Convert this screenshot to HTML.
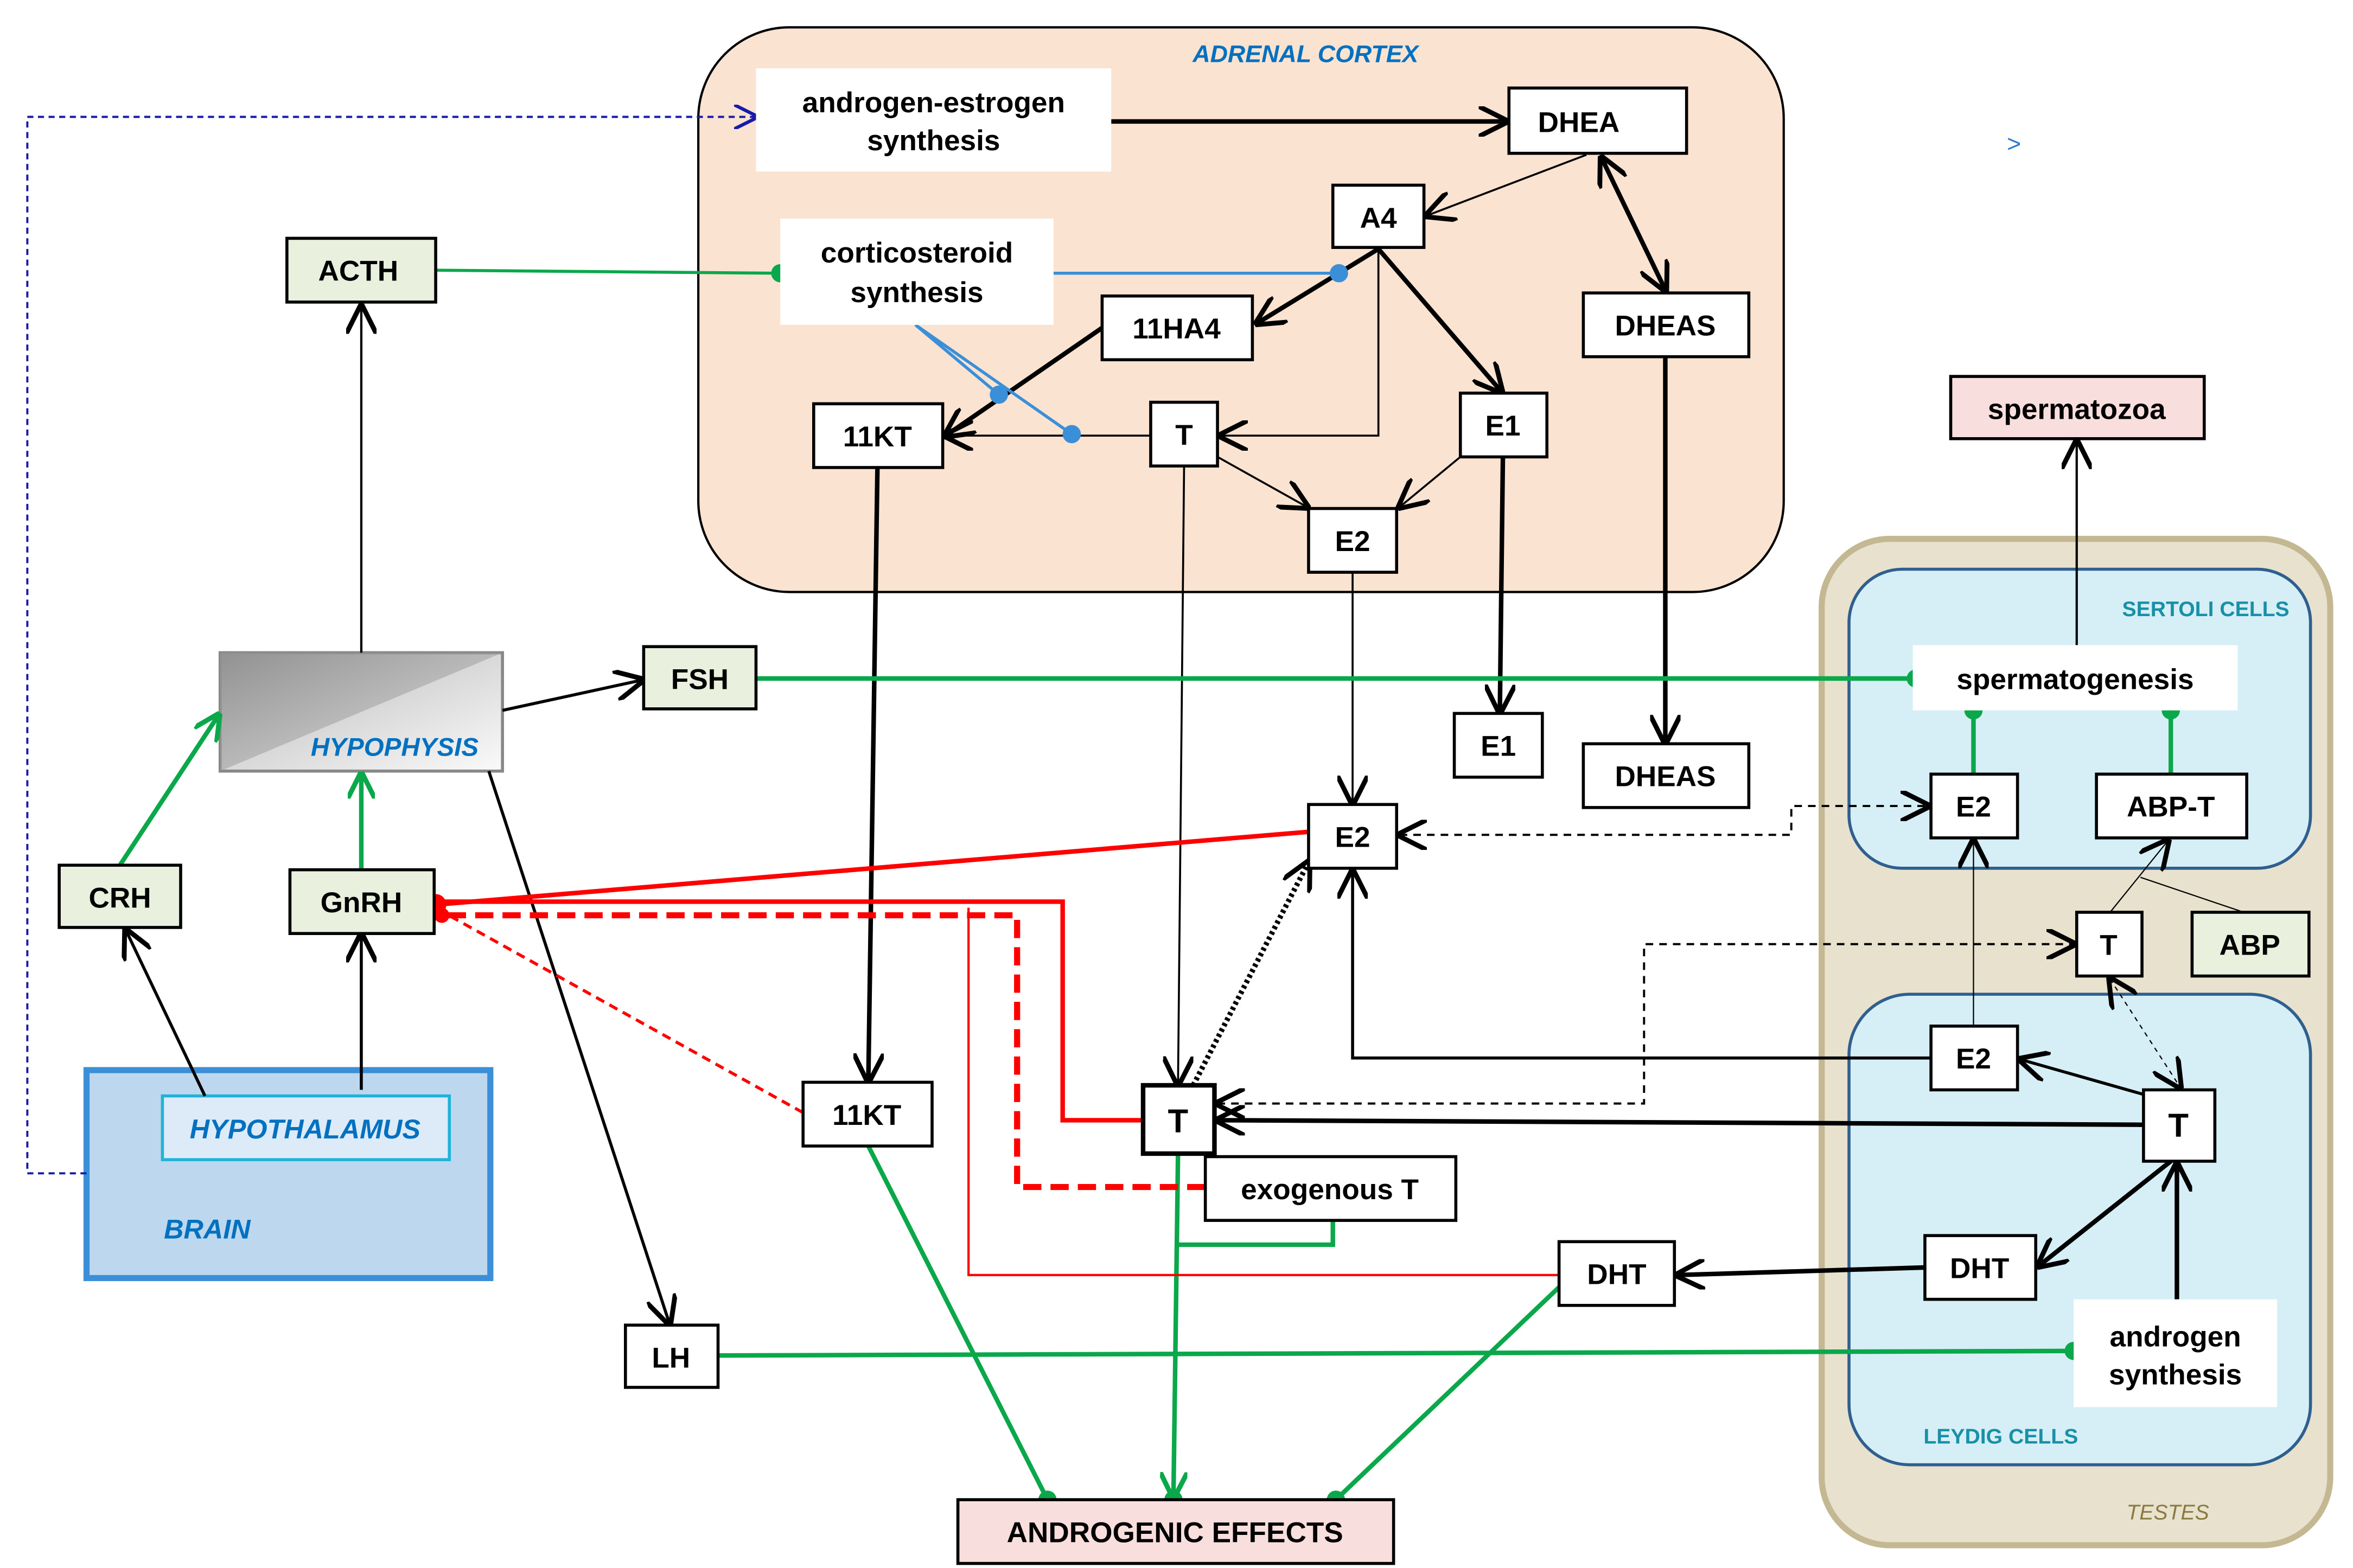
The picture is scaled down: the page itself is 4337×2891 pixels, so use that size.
<!DOCTYPE html>
<html><head><meta charset="utf-8"><style>html,body{margin:0;padding:0;background:#fff}svg{display:block}</style></head><body>
<svg width="4337" height="2891" viewBox="0 0 1550 1033" preserveAspectRatio="none" xmlns="http://www.w3.org/2000/svg" font-family="Liberation Sans, sans-serif">
<defs>
<marker id="a" viewBox="0 0 10 10" refX="9" refY="5" markerWidth="6" markerHeight="6" orient="auto-start-reverse" markerUnits="userSpaceOnUse"><path d="M0,0 L10,5 L0,10" fill="none" stroke="#000" stroke-width="2"/></marker>
<marker id="A" viewBox="0 0 10 10" refX="9" refY="5" markerWidth="20" markerHeight="20" orient="auto-start-reverse" markerUnits="userSpaceOnUse"><path d="M0,0 L10,5 L0,10" fill="none" stroke="#000" stroke-width="1.6"/></marker>
<marker id="b" viewBox="0 0 10 10" refX="9" refY="5" markerWidth="16" markerHeight="16" orient="auto" markerUnits="userSpaceOnUse"><path d="M0,0 L10,5 L0,10" fill="none" stroke="#1a1aaa" stroke-width="1.4"/></marker>
<marker id="g" viewBox="0 0 10 10" refX="9" refY="5" markerWidth="18" markerHeight="18" orient="auto" markerUnits="userSpaceOnUse"><path d="M0,0 L10,5 L0,10" fill="none" stroke="#0aa84a" stroke-width="1.8"/></marker>
<linearGradient id="hg" x1="0" y1="0" x2="1" y2="1"><stop offset="0" stop-color="#8a8a8a"/><stop offset="0.5" stop-color="#d8d8d8"/><stop offset="1" stop-color="#fafafa"/></linearGradient>
<linearGradient id="hg2" x1="0" y1="0" x2="1" y2="1"><stop offset="0.5" stop-color="#999"/><stop offset="0.5" stop-color="#fff" stop-opacity="0"/></linearGradient>
</defs>
<!-- big containers -->
<rect x="460" y="18" width="715" height="372" rx="60" fill="#fbe3d2" stroke="#000" stroke-width="1.5"/>
<text x="860" y="41" font-size="16" font-weight="bold" font-style="italic" fill="#0070c0" text-anchor="middle">ADRENAL CORTEX</text>
<rect x="1200" y="355" width="335" height="663" rx="45" fill="#e7e1cd" stroke="#c4b893" stroke-width="4"/>
<text x="1428" y="1001" font-size="14" font-style="italic" fill="#8a7a40" text-anchor="middle">TESTES</text>
<rect x="1218" y="375" width="304" height="197" rx="35" fill="#d6eef5" stroke="#2e5f8f" stroke-width="2"/>
<text x="1453" y="406" font-size="14" font-weight="bold" fill="#1890a8" text-anchor="middle">SERTOLI CELLS</text>
<rect x="1218" y="655" width="304" height="310" rx="40" fill="#d6eef5" stroke="#2e5f8f" stroke-width="2"/>
<text x="1318" y="951" font-size="14" font-weight="bold" fill="#1890a8" text-anchor="middle">LEYDIG CELLS</text>
<rect x="57" y="705" width="266" height="137" fill="#bdd7ee" stroke="#3a8fd8" stroke-width="4"/>
<text x="108" y="816" font-size="18" font-weight="bold" font-style="italic" fill="#0070c0">BRAIN</text>
<rect x="107" y="722" width="189" height="42" fill="#dcebf7" stroke="#1fb3d7" stroke-width="2"/>
<text x="201" y="750" font-size="18" font-weight="bold" font-style="italic" fill="#0070c0" text-anchor="middle">HYPOTHALAMUS</text>
<rect x="145" y="430" width="186" height="78" fill="url(#hg)" stroke="#888" stroke-width="2"/>
<polygon points="145,430 331,430 145,508" fill="#9a9a9a" opacity="0.5"/>
<text x="260" y="498" font-size="17" font-weight="bold" font-style="italic" fill="#0070c0" text-anchor="middle">HYPOPHYSIS</text>
<text x="1322" y="100" font-size="16" fill="#2a7ad0">&gt;</text>

<!-- connectors black -->
<g fill="none" stroke="#000">
<polyline points="57,773 18,773 18,77 498,77" stroke="#1a1aaa" stroke-width="1.4" stroke-dasharray="4,3" marker-end="url(#b)"/>
<line x1="732" y1="80" x2="992" y2="80" stroke-width="3" marker-end="url(#A)"/>
<line x1="1045" y1="102" x2="940" y2="142" stroke-width="1.3" marker-end="url(#A)"/>
<line x1="1055" y1="104" x2="1097" y2="191" stroke-width="3" marker-start="url(#A)" marker-end="url(#A)"/>
<line x1="908" y1="164" x2="828" y2="213" stroke-width="3" marker-end="url(#A)"/>
<line x1="908" y1="164" x2="989" y2="258" stroke-width="3" marker-end="url(#A)"/>
<polyline points="908,164 908,287 804,287" stroke-width="1.3" marker-end="url(#A)"/>
<line x1="726" y1="216" x2="623" y2="287" stroke-width="3" marker-end="url(#A)"/>
<line x1="758" y1="287" x2="623" y2="287" stroke-width="1.3" marker-end="url(#A)"/>
<line x1="802" y1="301" x2="861" y2="334" stroke-width="1.3" marker-end="url(#A)"/>
<line x1="962" y1="301" x2="922" y2="334" stroke-width="1.3" marker-end="url(#A)"/>
<line x1="238" y1="430" x2="238" y2="202" stroke-width="1.5" marker-end="url(#A)"/>
<line x1="990" y1="301" x2="988" y2="469" stroke-width="3" marker-end="url(#A)"/>
<line x1="1097" y1="235" x2="1097" y2="489" stroke-width="3" marker-end="url(#A)"/>
<line x1="578" y1="308" x2="572" y2="712" stroke-width="3" marker-end="url(#A)"/>
<line x1="780" y1="307" x2="776" y2="714" stroke-width="1.3" marker-end="url(#A)"/>
<line x1="891" y1="377" x2="891" y2="529" stroke-width="1.3" marker-end="url(#A)"/>
<line x1="1368" y1="425" x2="1368" y2="291" stroke-width="1.5" marker-end="url(#A)"/>
<line x1="331" y1="468" x2="423" y2="448" stroke-width="2" marker-end="url(#A)"/>
<line x1="322" y1="508" x2="441" y2="872" stroke-width="2" marker-end="url(#A)"/>
<line x1="135" y1="722" x2="83" y2="613" stroke-width="2" marker-end="url(#A)"/>
<line x1="238" y1="718" x2="238" y2="616" stroke-width="2" marker-end="url(#A)"/>
<polyline points="922,550 1180,550 1180,531 1270,531" stroke-width="1.4" stroke-dasharray="5,4" marker-start="url(#A)" marker-end="url(#A)"/>
<line x1="1300" y1="676" x2="1300" y2="554" stroke-width="0.8" marker-end="url(#A)"/>
<line x1="1390" y1="601" x2="1428" y2="554" stroke-width="0.8" marker-end="url(#A)"/>
<line x1="1478" y1="601" x2="1410" y2="578" stroke-width="0.8"/>
<line x1="1390" y1="645" x2="1436" y2="716" stroke-width="0.8" stroke-dasharray="3,3" marker-start="url(#A)" marker-end="url(#A)"/>
<polyline points="802,727 1083,727 1083,622 1366,622" stroke-width="1.4" stroke-dasharray="5,4" marker-start="url(#A)" marker-end="url(#A)"/>
<line x1="1412" y1="721" x2="1331" y2="698" stroke-width="2" marker-end="url(#A)"/>
<polyline points="1272,697 891,697 891,574" stroke-width="2" marker-end="url(#A)"/>
<line x1="1412" y1="741" x2="802" y2="738" stroke-width="3" marker-end="url(#A)"/>
<line x1="1430" y1="765" x2="1343" y2="834" stroke-width="3" marker-end="url(#A)"/>
<line x1="1434" y1="856" x2="1434" y2="767" stroke-width="3" marker-end="url(#A)"/>
<line x1="1268" y1="835" x2="1105" y2="840" stroke-width="3" marker-end="url(#A)"/>
<line x1="786" y1="715" x2="862" y2="568" stroke-width="3.5" stroke-dasharray="2,2" marker-end="url(#A)"/>
</g>
<!-- blue corticosteroid lines -->
<g stroke="#3a8fd8" stroke-width="2" fill="#3a8fd8">
<line x1="694" y1="180" x2="882" y2="180"/><circle cx="882" cy="180" r="5"/>
<line x1="603" y1="214" x2="658" y2="260"/><circle cx="658" cy="260" r="5"/>
<line x1="603" y1="214" x2="706" y2="286"/><circle cx="706" cy="286" r="5"/>
</g>
<!-- green -->
<g stroke="#0aa84a" stroke-width="3" fill="none">
<line x1="287" y1="178" x2="514" y2="180" stroke-width="2"/>
<line x1="498" y1="447" x2="1262" y2="447"/>
<line x1="1300" y1="468" x2="1300" y2="510"/>
<line x1="1430" y1="468" x2="1430" y2="510"/>
<line x1="79" y1="570" x2="144" y2="471" marker-end="url(#g)"/>
<line x1="238" y1="573" x2="238" y2="510" marker-end="url(#g)"/>
<line x1="473" y1="893" x2="1366" y2="890"/>
<line x1="572" y1="755" x2="690" y2="988"/>
<line x1="776" y1="760" x2="773" y2="986" marker-end="url(#g)"/>
<polyline points="878,804 878,820 776,820"/>
<line x1="1027" y1="848" x2="880" y2="988"/>
</g>
<g fill="#0aa84a">
<circle cx="514" cy="180" r="6"/><circle cx="1262" cy="447" r="6"/><circle cx="1300" cy="468" r="6"/><circle cx="1430" cy="468" r="6"/><circle cx="1366" cy="890" r="6"/><circle cx="690" cy="988" r="6"/><circle cx="773" cy="988" r="6"/><circle cx="880" cy="988" r="6"/>
</g>
<!-- red -->
<g stroke="#f00" fill="none">
<line x1="862" y1="548" x2="287" y2="596" stroke-width="3"/>
<polyline points="753,738 700,738 700,594 287,594" stroke-width="3"/>
<polyline points="794,782 670,782 670,603 290,603" stroke-width="4" stroke-dasharray="12,6"/>
<polyline points="1027,840 638,840 638,598" stroke-width="1.5"/>
<line x1="529" y1="733" x2="292" y2="601" stroke-width="2" stroke-dasharray="6,4"/>
</g>
<circle cx="287" cy="596" r="7" fill="#f00"/><circle cx="291" cy="603" r="5" fill="#f00"/>

<!-- nodes -->
<g stroke="#000" stroke-width="2" font-size="19" font-weight="bold" text-anchor="middle">
<rect x="498" y="45" width="234" height="68" fill="#fff" stroke="none"/>
<rect x="514" y="144" width="180" height="70" fill="#fff" stroke="none"/>
<rect x="1260" y="425" width="214" height="43" fill="#fff" stroke="none"/>
<rect x="1366" y="856" width="134" height="71" fill="#fff" stroke="none"/>
<rect x="994" y="58" width="117" height="43" fill="#fff"/>
<rect x="878" y="122" width="60" height="41" fill="#fff"/>
<rect x="189" y="157" width="98" height="42" fill="#e9f1de"/>
<rect x="726" y="195" width="99" height="42" fill="#fff"/>
<rect x="1043" y="193" width="109" height="42" fill="#fff"/>
<rect x="536" y="266" width="85" height="42" fill="#fff"/>
<rect x="758" y="265" width="44" height="42" fill="#fff"/>
<rect x="962" y="259" width="57" height="42" fill="#fff"/>
<rect x="862" y="335" width="58" height="42" fill="#fff"/>
<rect x="1285" y="248" width="167" height="41" fill="#f9dede"/>
<rect x="1272" y="510" width="57" height="42" fill="#fff"/>
<rect x="1381" y="510" width="99" height="42" fill="#fff"/>
<rect x="1368" y="601" width="43" height="42" fill="#fff"/>
<rect x="1444" y="601" width="77" height="42" fill="#e9f1de"/>
<rect x="1272" y="676" width="57" height="42" fill="#fff"/>
<rect x="1412" y="718" width="47" height="47" fill="#fff"/>
<rect x="1268" y="814" width="73" height="42" fill="#fff"/>
<rect x="424" y="426" width="74" height="41" fill="#e9f1de"/>
<rect x="958" y="470" width="58" height="42" fill="#fff"/>
<rect x="1043" y="490" width="109" height="42" fill="#fff"/>
<rect x="862" y="530" width="58" height="42" fill="#fff"/>
<rect x="39" y="570" width="80" height="41" fill="#e9f1de"/>
<rect x="191" y="573" width="95" height="42" fill="#e9f1de"/>
<rect x="529" y="713" width="85" height="42" fill="#fff"/>
<rect x="753" y="715" width="47" height="45" fill="#fff" stroke-width="3"/>
<rect x="794" y="762" width="165" height="42" fill="#fff"/>
<rect x="1027" y="818" width="76" height="42" fill="#fff"/>
<rect x="412" y="873" width="61" height="41" fill="#fff"/>
<rect x="631" y="988" width="287" height="42" fill="#f9dede"/>
</g>
<g font-size="19" font-weight="bold" text-anchor="middle" fill="#000">
<text x="615" y="74">androgen-estrogen</text><text x="615" y="99">synthesis</text>
<text x="604" y="173">corticosteroid</text><text x="604" y="199">synthesis</text>
<text x="1367" y="454">spermatogenesis</text>
<text x="1433" y="887">androgen</text><text x="1433" y="912">synthesis</text>
<text x="1040" y="87">DHEA</text><text x="908" y="150">A4</text><text x="236" y="185">ACTH</text>
<text x="775" y="223">11HA4</text><text x="1097" y="221">DHEAS</text><text x="578" y="294">11KT</text>
<text x="780" y="293">T</text><text x="990" y="287">E1</text><text x="891" y="363">E2</text>
<text x="1368" y="276">spermatozoa</text><text x="1300" y="538">E2</text><text x="1430" y="538">ABP-T</text>
<text x="1389" y="629">T</text><text x="1482" y="629">ABP</text><text x="1300" y="704">E2</text>
<text x="1435" y="749" font-size="22">T</text><text x="1304" y="842">DHT</text><text x="461" y="454">FSH</text>
<text x="987" y="498">E1</text><text x="1097" y="518">DHEAS</text><text x="891" y="558">E2</text>
<text x="79" y="598">CRH</text><text x="238" y="601">GnRH</text><text x="571" y="741">11KT</text>
<text x="776" y="746" font-size="22">T</text><text x="876" y="790">exogenous T</text><text x="1065" y="846">DHT</text>
<text x="442" y="901">LH</text><text x="774" y="1016">ANDROGENIC EFFECTS</text>
</g>
</svg>
</body></html>
